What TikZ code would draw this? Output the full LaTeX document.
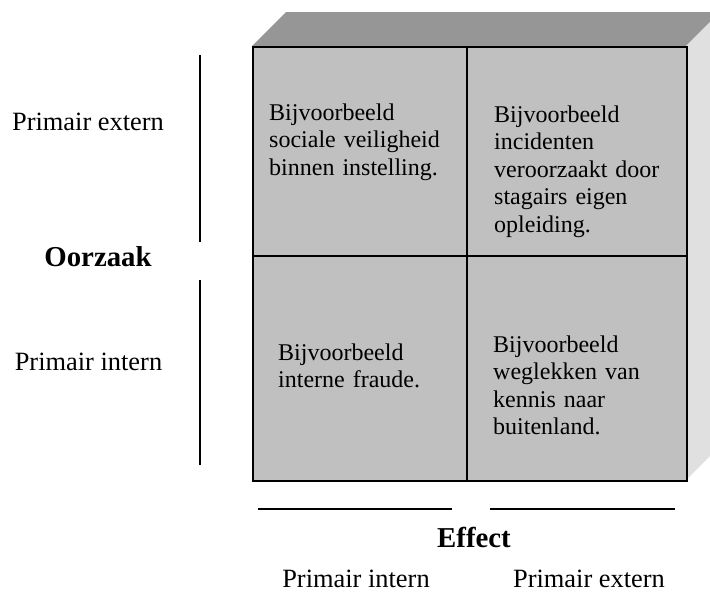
\documentclass[tikz,border=0pt]{standalone}
\usepackage{fontspec}
\setmainfont{Liberation Serif}
\definecolor{topgray}{HTML}{969696}
\definecolor{frontgray}{HTML}{C0C0C0}
\definecolor{sidegray}{HTML}{E0E0E0}
\begin{document}
\begin{tikzpicture}[x=1pt,y=-1pt,
  celltext/.style={anchor=base west, inner sep=0pt, text width=190pt, align=left, font=\fontsize{24}{27.5}\selectfont},
  lbl/.style={anchor=base, inner sep=0pt, font=\fontsize{26.4}{30}\selectfont},
  blbl/.style={anchor=base, inner sep=0pt, font=\fontsize{28.8}{32}\selectfont\bfseries},
  axisline/.style={draw=black, line width=1.2pt},
  gridline/.style={draw=black, line width=1.5pt}]
\path[use as bounding box, clip] (0,0) rectangle (710,592);
% 3D faces
\fill[topgray] (252,46) -- (286,12) -- (720,12) -- (686,46) -- cycle;
\fill[sidegray] (686,46) -- (720,12) -- (720,446) -- (686,480) -- cycle;
% front face
\node[gridline, fill=frontgray, minimum width=434pt, minimum height=434pt, inner sep=0pt, anchor=north west] (front) at (252,46) {};
\coordinate (mtop) at (467,46);
\coordinate (mbot) at (467,480);
\coordinate (mleft) at (252,256);
\coordinate (mright) at (686,256);
\draw[gridline] (mtop) -- (mbot);
\draw[gridline] (mleft) -- (mright);
% cell texts
\node[celltext] (tl) at (269,120) {Bijvoorbeeld\\sociale veiligheid\\binnen instelling.};
\node[celltext] (tr) at (494,122) {Bijvoorbeeld\\incidenten\\veroorzaakt door\\stagairs eigen\\opleiding.};
\node[celltext] (bl) at (278,360) {Bijvoorbeeld\\interne fraude.};
\node[celltext] (br) at (493,352) {Bijvoorbeeld\\weglekken van\\kennis naar\\buitenland.};
% left axis
\coordinate (la1) at (200,55);
\coordinate (lb1) at (200,242);
\coordinate (la2) at (200,280);
\coordinate (lb2) at (200,465);
\draw[axisline] (la1) -- (lb1);
\draw[axisline] (la2) -- (lb2);
\node[lbl] (pe) at (88,130) {Primair extern};
\node[blbl] (oorzaak) at (98,266) {Oorzaak};
\node[lbl] (pi) at (88.5,370) {Primair intern};
% bottom axis
\coordinate (ba1) at (258,509);
\coordinate (bb1) at (452,509);
\coordinate (ba2) at (490,509);
\coordinate (bb2) at (675,509);
\draw[gridline] (ba1) -- (bb1);
\draw[gridline] (ba2) -- (bb2);
\node[blbl] (effect) at (474,547) {Effect};
\node[lbl] (bpi) at (356,587) {Primair intern};
\node[lbl] (bpe) at (589,587) {Primair extern};
\end{tikzpicture}
\end{document}
